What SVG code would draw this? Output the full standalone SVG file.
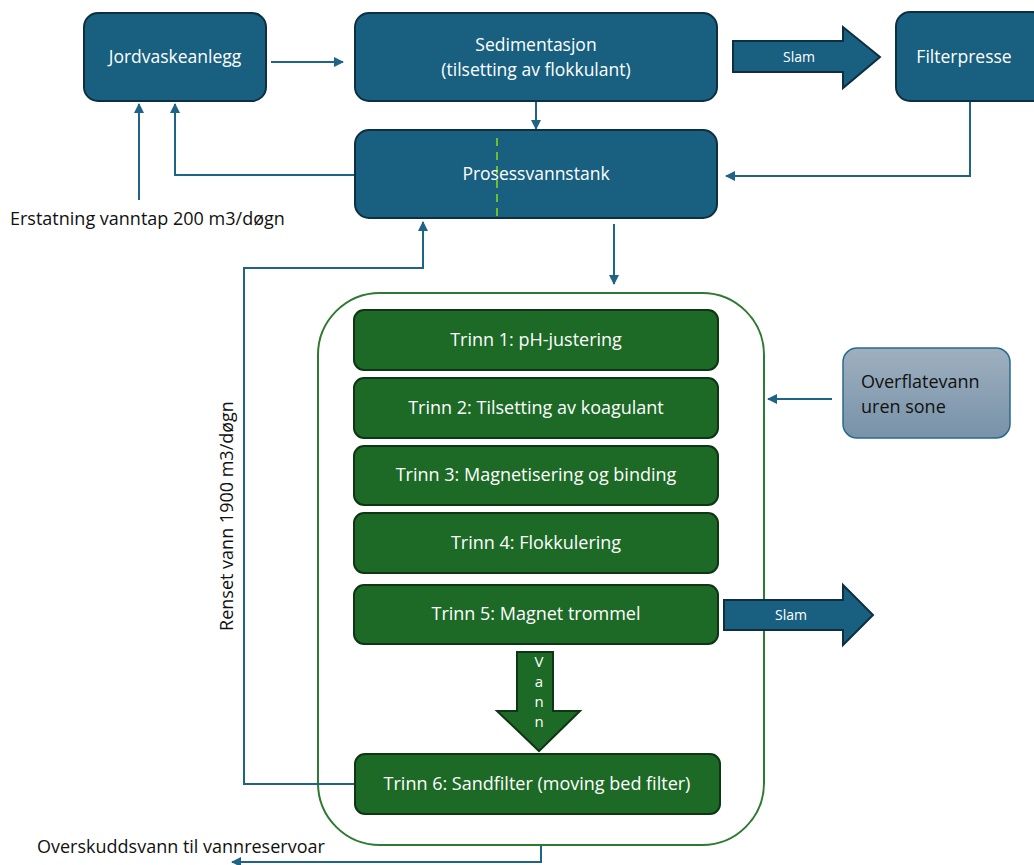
<svg xmlns="http://www.w3.org/2000/svg" width="1034" height="865" viewBox="0 0 1034 865">
<style>
.blue{fill:#185f80;stroke:#0e2f40;stroke-width:2}
.green{fill:#1c6a26;stroke:#0f3515;stroke-width:2}
.wt{fill:#fff;font-family:"Open Sans","Liberation Sans",sans-serif;font-size:17.5px;text-anchor:middle}
.gt{fill:#fff;font-family:"Open Sans","Liberation Sans",sans-serif;font-size:18px;text-anchor:middle}
.st{fill:#fff;font-family:"Open Sans","Liberation Sans",sans-serif;font-size:14px;text-anchor:middle}
.vt{fill:#fff;font-family:"Open Sans","Liberation Sans",sans-serif;font-size:15px;text-anchor:middle}
.bt{fill:#111;font-family:"Open Sans","Liberation Sans",sans-serif;font-size:18px}
.con{fill:none;stroke:#1f6386;stroke-width:2}
</style>
<defs>
<marker id="ah" viewBox="0 0 10 10" refX="9" refY="5" markerWidth="5" markerHeight="5" orient="auto" markerUnits="strokeWidth">
<path d="M0,0 L10,5 L0,10 z" fill="#1f6386"/>
</marker>
<linearGradient id="og" x1="0" y1="0" x2="0" y2="1">
<stop offset="0" stop-color="#9eb0c0"/>
<stop offset="1" stop-color="#7892a8"/>
</linearGradient>
</defs>

<g id="container">
<rect x="318" y="293" width="446" height="552" rx="62" fill="none" stroke="#2e7a31" stroke-width="2"/>
</g>

<g id="connectors">
<path class="con" d="M271,62 H343" marker-end="url(#ah)"/>
<path class="con" d="M536,102 V129" marker-end="url(#ah)"/>
<path class="con" d="M970,102 V176 H726" marker-end="url(#ah)"/>
<path class="con" d="M355,175 H175 V104" marker-end="url(#ah)"/>
<path class="con" d="M139,200 V104" marker-end="url(#ah)"/>
<path class="con" d="M614,224 V284" marker-end="url(#ah)"/>
<path class="con" d="M356,784 H244 V268 H423 V222" marker-end="url(#ah)"/>
<path class="con" d="M832,399 H768" marker-end="url(#ah)"/>
<path class="con" d="M541,846 V862 H232" marker-end="url(#ah)"/>
</g>

<g id="jordvask">
<rect class="blue" x="84" y="13" width="182" height="88" rx="14"/>
<text class="wt" x="175" y="63">Jordvaskeanlegg</text>
</g>
<g id="sedimentasjon">
<rect class="blue" x="355" y="13" width="362" height="88" rx="14"/>
<text class="wt" x="536" y="51">Sedimentasjon</text>
<text class="wt" x="536" y="76">(tilsetting av flokkulant)</text>
</g>
<g id="slam1">
<path class="blue" d="M733,41 H843 V27 L880,57 L843,88 V72 H733 z"/>
<text class="st" x="799" y="62">Slam</text>
</g>
<g id="filterpresse">
<rect class="blue" x="896" y="12" width="150" height="89" rx="14"/>
<text class="wt" x="964" y="63">Filterpresse</text>
</g>
<g id="prosessvannstank">
<rect class="blue" x="355" y="130" width="362" height="88" rx="14"/>
<line x1="497" y1="138" x2="497" y2="216" stroke="#6fbf2a" stroke-width="2" stroke-dasharray="8,6"/>
<text class="wt" x="536" y="180">Prosessvannstank</text>
</g>

<g id="trinn1">
<rect class="green" x="354" y="310" width="364" height="60" rx="10"/>
<text class="gt" x="536" y="346">Trinn 1: pH-justering</text>
</g>
<g id="trinn2">
<rect class="green" x="354" y="378" width="364" height="60" rx="10"/>
<text class="gt" x="536" y="414">Trinn 2: Tilsetting av koagulant</text>
</g>
<g id="trinn3">
<rect class="green" x="354" y="446" width="364" height="59" rx="10"/>
<text class="gt" x="536" y="481">Trinn 3: Magnetisering og binding</text>
</g>
<g id="trinn4">
<rect class="green" x="354" y="513" width="364" height="60" rx="10"/>
<text class="gt" x="536" y="549">Trinn 4: Flokkulering</text>
</g>
<g id="trinn5">
<rect class="green" x="354" y="585" width="364" height="59" rx="10"/>
<text class="gt" x="536" y="620">Trinn 5: Magnet trommel</text>
</g>
<g id="vann">
<path class="green" d="M517,652 H553 V711 H580 L539,751 L497,711 H517 z"/>
<text class="vt" x="539" y="667">V</text>
<text class="vt" x="539" y="687">a</text>
<text class="vt" x="539" y="707">n</text>
<text class="vt" x="539" y="727">n</text>
</g>
<g id="trinn6">
<rect class="green" x="355" y="754" width="365" height="60" rx="10"/>
<text class="gt" x="537" y="790">Trinn 6: Sandfilter (moving bed filter)</text>
</g>
<g id="slam2">
<path class="blue" d="M724,600 H843 V585 L873,615 L843,645 V630 H724 z"/>
<text class="st" x="791" y="620">Slam</text>
</g>
<g id="overflatevann">
<rect x="843" y="348" width="167" height="90" rx="14" fill="url(#og)" stroke="#2a6a8c" stroke-width="1.5"/>
<text class="bt" x="861" y="388">Overflatevann</text>
<text class="bt" x="861" y="413">uren sone</text>
</g>

<g id="labels">
<text class="bt" x="10" y="225">Erstatning vanntap 200 m3/døgn</text>
<text class="bt" x="0" y="0" text-anchor="middle" transform="translate(233,516) rotate(-90)">Renset vann 1900 m3/døgn</text>
<text class="bt" x="37" y="853">Overskuddsvann til vannreservoar</text>
</g>
</svg>
